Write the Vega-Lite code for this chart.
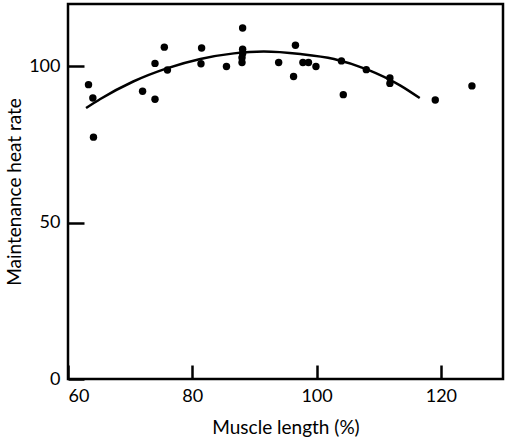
{
  "$schema": "https://vega.github.io/schema/vega-lite/v6.json",
  "autosize": {"type": "none"},
  "width": 435,
  "height": 375,
  "padding": {"left": 68, "top": 4, "right": 6, "bottom": 58},
  "background": "white",
  "config": {
    "view": {"stroke": "black", "strokeWidth": 2.5},
    "font": "Lato",
    "axis": {"grid": false, "domain": false, "tickColor": "black", "tickWidth": 2.5, "labelColor": "black", "titleColor": "black", "labelFont": "Lato", "titleFont": "Lato", "labelFontSize": 18, "titleFontSize": 19, "titleFontWeight": "normal"}
  },
  "datasets": {
    "pts": [
      {"x": 63.3, "y": 94.2}, {"x": 64.0, "y": 89.9}, {"x": 64.1, "y": 77.4},
      {"x": 72.0, "y": 92.1}, {"x": 74.0, "y": 101.0}, {"x": 74.0, "y": 89.5},
      {"x": 75.5, "y": 106.2}, {"x": 76.0, "y": 98.9}, {"x": 81.5, "y": 105.9},
      {"x": 81.4, "y": 100.9}, {"x": 85.5, "y": 100.0}, {"x": 88.1, "y": 112.3},
      {"x": 88.1, "y": 105.5}, {"x": 88.1, "y": 104.2}, {"x": 88.0, "y": 102.8},
      {"x": 88.0, "y": 101.3}, {"x": 93.9, "y": 101.3}, {"x": 96.6, "y": 106.8},
      {"x": 96.3, "y": 96.8}, {"x": 97.8, "y": 101.3}, {"x": 98.7, "y": 101.3},
      {"x": 99.9, "y": 100.0}, {"x": 104.0, "y": 101.8}, {"x": 104.3, "y": 91.0},
      {"x": 108.0, "y": 99.0}, {"x": 111.8, "y": 96.3}, {"x": 111.8, "y": 94.6},
      {"x": 119.1, "y": 89.3}, {"x": 125.0, "y": 93.8}
    ],
    "curve": [
      {"x": 62.9, "y": 86.7}, {"x": 65.2, "y": 89.6}, {"x": 70.5, "y": 95.2},
      {"x": 75.9, "y": 99.4}, {"x": 81.3, "y": 102.4}, {"x": 86.7, "y": 104.2},
      {"x": 91.5, "y": 104.8}, {"x": 97.4, "y": 104.0}, {"x": 102.8, "y": 102.4},
      {"x": 108.2, "y": 99.0}, {"x": 113.5, "y": 93.9}, {"x": 116.6, "y": 89.9}
    ]
  },
  "layer": [
    {
      "data": {"name": "curve"},
      "mark": {"type": "line", "color": "black", "strokeWidth": 2.5, "interpolate": "monotone"},
      "encoding": {
        "x": {"field": "x", "type": "quantitative", "scale": {"domain": [60, 130], "nice": false},
          "axis": {"values": [60, 80, 100, 120], "tickSize": -14, "labelPadding": 22, "title": "Muscle length (%)", "titlePadding": 13}},
        "y": {"field": "y", "type": "quantitative", "scale": {"domain": [0, 120], "nice": false},
          "axis": {"values": [0, 50, 100], "tickSize": -16, "labelPadding": 24, "title": "Maintenance heat rate", "titlePadding": 4}}
      }
    },
    {
      "data": {"name": "pts"},
      "mark": {"type": "circle", "color": "black", "opacity": 1, "size": 55},
      "encoding": {
        "x": {"field": "x", "type": "quantitative"},
        "y": {"field": "y", "type": "quantitative"}
      }
    }
  ]
}
